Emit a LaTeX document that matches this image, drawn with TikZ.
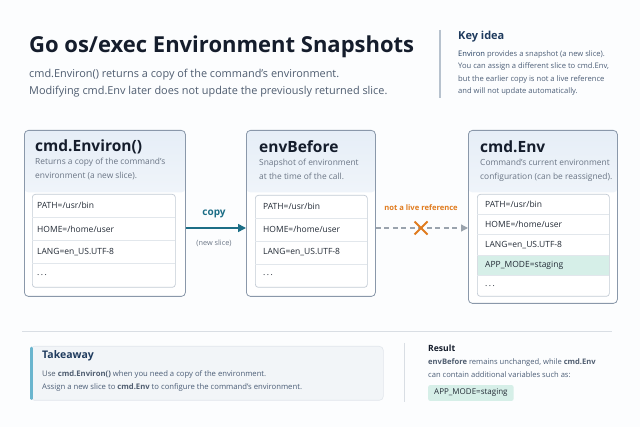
\documentclass[tikz,border=0pt]{standalone}
\usepackage{fontspec}
\setmainfont{Open Sans}
\usetikzlibrary{arrows.meta,shapes.misc,calc}

\definecolor{paper}{HTML}{FCFDFE}
\definecolor{ink}{HTML}{151D2C}
\definecolor{subtext}{HTML}{4F5D70}
\definecolor{navy}{HTML}{1F3B5E}
\definecolor{keytext}{HTML}{4C5E77}
\definecolor{keyrule}{HTML}{B7C2CE}
\definecolor{cardline}{HTML}{8A98AA}
\definecolor{hdtop}{HTML}{E6EEF7}
\definecolor{desctext}{HTML}{6A7585}
\definecolor{listline}{HTML}{C3CBD4}
\definecolor{rowline}{HTML}{E2E7EC}
\definecolor{rowtext}{HTML}{232B36}
\definecolor{copyteal}{HTML}{1C6E86}
\definecolor{warn}{HTML}{E07B1E}
\definecolor{dashgray}{HTML}{9AA3AD}
\definecolor{mint}{HTML}{D6EFE8}
\definecolor{notebg}{HTML}{F2F5F8}
\definecolor{noteline}{HTML}{E1E6EC}
\definecolor{accent}{HTML}{6AB5CE}
\definecolor{rulegray}{HTML}{D9DEE4}

\tikzset{
  txt/.style={anchor=west, inner sep=0pt, align=left},
  card/.style={draw=cardline, line width=0.8pt, rounded corners=4pt, fill=white,
    anchor=north west, inner sep=0pt,
    path picture={\shade[top color=hdtop, bottom color=white]
      (path picture bounding box.north west) rectangle ([yshift=-62pt]path picture bounding box.north east);}},
  cardtitle/.style={txt, text=ink, font=\fontsize{15.5}{18}\selectfont\bfseries},
  carddesc/.style={txt, text=desctext, font=\fontsize{8.4}{14}\selectfont},
  listbox/.style={draw=listline, line width=0.7pt, rounded corners=3pt, fill=white,
    anchor=north west, inner sep=0pt},
  rowtxt/.style={txt, text=rowtext, font=\fontsize{8.5}{10}\selectfont},
  rowsep/.style={draw=rowline, line width=0.6pt},
  copyarrow/.style={draw=copyteal, line width=1.6pt, -{Triangle[length=8pt,width=8pt]}},
  livearrow/.style={draw=dashgray, line width=1.3pt, dash pattern=on 5pt off 3.5pt,
    -{Triangle[length=7pt,width=7pt]}},
  cut/.style={cross out, draw=warn, line width=2pt, minimum size=11pt, inner sep=0pt},
  note/.style={draw=noteline, line width=0.6pt, fill=notebg, rounded corners=4pt,
    anchor=north west, inner sep=0pt},
  notetxt/.style={txt, text=keytext, font=\fontsize{7.7}{13}\selectfont},
  pill/.style={anchor=west, fill=mint, rounded corners=2pt, inner xsep=6pt, inner ysep=4pt,
    text=rowtext, font=\fontsize{8}{10}\selectfont}
}

\begin{document}
\begin{tikzpicture}[x=1pt, y=-1pt]
    \fill[paper] (0,0) rectangle (640,427);
    \useasboundingbox (0,0) rectangle (640,427);

    %% Heading
    \node[txt, text=ink, font=\fontsize{22}{26}\selectfont\bfseries] (title) at (29,47)
        {Go os/exec Environment Snapshots};
    \node[txt, text=subtext, font=\fontsize{10.9}{17}\selectfont] (subtitle) at (29,83)
        {cmd.Environ() returns a copy of the command's environment.\\
         Modifying cmd.Env later does not update the previously returned slice.};

    %% Key idea
    \draw[keyrule, line width=1.2pt] (440,30) -- (440,98);
    \node[txt, text=navy, font=\fontsize{11}{13}\selectfont\bfseries] (key) at (458,37) {Key idea};
    \node[txt, text=keytext, font=\fontsize{7.6}{12.4}\selectfont] (keytext) at (458,73)
        {\textcolor{navy}{Environ} provides a snapshot (a new slice).\\
         You can assign a different slice to cmd.Env,\\
         but the earlier copy is not a live reference\\
         and will not update automatically.};

    %% Cards
    \node[card, minimum width=161pt, minimum height=166pt] (environ) at (24,130) {};
    \node[card, minimum width=129pt, minimum height=166pt] (before) at (246,130) {};
    \node[card, minimum width=149pt, minimum height=173pt] (env) at (468,130) {};

    \node[cardtitle] (environ-t) at (35,147) {cmd.Environ()};
    \node[carddesc] (environ-d) at (35,169) {Returns a copy of the command's\\environment (a new slice).};
    \node[cardtitle] (before-t) at (259,147) {envBefore};
    \node[carddesc] (before-d) at (259,169) {Snapshot of environment\\at the time of the call.};
    \node[cardtitle] (env-t) at (480,147) {cmd.Env};
    \node[carddesc] (env-d) at (480,170) {Command's current environment\\configuration (can be reassigned).};

    %% Variable lists
    \node[listbox, minimum width=143pt, minimum height=93pt] (environ-l) at (32,194) {};
    \node[listbox, minimum width=112pt, minimum height=92pt] (before-l) at (255,195) {};
    \node[listbox, minimum width=132pt, minimum height=102pt] (env-l) at (477,194) {};
    \fill[mint] ($(env-l.north west)+(0.5,61.2)$) rectangle ++(131,20.4);

    \foreach \i in {1,2,3} {
        \draw[rowsep] ($(environ-l.north west)+(0,{\i*23.25})$) -- ++(143,0);
        \draw[rowsep] ($(before-l.north west)+(0,{\i*23})$) -- ++(112,0);
    }
    \foreach \i in {1,2,3,4}
        \draw[rowsep] ($(env-l.north west)+(0,{\i*20.4})$) -- ++(132,0);

    \foreach \v [count=\i] in {PATH=/usr/bin, HOME=/home/user, LANG=en\_US.UTF-8, .\,.\,.} {
        \node[rowtxt] (environ-r\i) at ($(environ-l.north west)+(5,{(\i-0.5)*23.25})$) {\v};
        \node[rowtxt] (before-r\i) at ($(before-l.north west)+(8,{(\i-0.5)*23})$) {\v};
    }
    \foreach \v [count=\i] in {PATH=/usr/bin, HOME=/home/user, LANG=en\_US.UTF-8, APP\_MODE=staging, .\,.\,.}
        \node[rowtxt] (env-r\i) at ($(env-l.north west)+(8,{(\i-0.5)*20.4})$) {\v};

    %% Connectors
    \coordinate (lane) at (0,228);
    \draw[copyarrow] (environ.east |- lane) -- (before.west |- lane);
    \node[anchor=center, text=copyteal, font=\fontsize{10}{12}\selectfont\bfseries] (copy) at (214,214) {copy};
    \node[anchor=center, text=desctext, font=\fontsize{7.3}{9}\selectfont] (newslice) at (214,243) {(new slice)};

    \draw[livearrow] (before.east |- lane) -- (env.west |- lane);
    \node[cut] (cut) at (421,228) {};
    \node[anchor=center, text=warn, font=\fontsize{7.6}{9}\selectfont\bfseries] (live) at (421,208)
        {not a live reference};

    %% Bottom
    \draw[rulegray, line width=0.8pt] (22,331) -- (612,331);
    \draw[rulegray, line width=0.8pt] (404,343) -- (404,402);

    \node[note, minimum width=353pt, minimum height=54pt] (take) at (30,346) {};
    \draw[accent, line width=2.6pt, line cap=round]
        ([xshift=1.3pt,yshift=-2pt]take.north west) -- ([xshift=1.3pt,yshift=2pt]take.south west);
    \node[txt, text=navy, font=\fontsize{10.5}{12}\selectfont\bfseries] (take-t) at (42,356) {Takeaway};
    \node[notetxt] (take-d) at (42,380.5)
        {\textcolor{subtext}{Use \textbf{cmd.Environ()}} when you need a copy of the environment.\\
         Assign a new slice to \textcolor{subtext}{\textbf{cmd.Env}} to configure the command's environment.};

    \node[txt, text=ink, font=\fontsize{8.6}{10}\selectfont\bfseries] (result) at (428,348) {Result};
    \node[notetxt, font=\fontsize{7.6}{13}\selectfont] (result-d) at (428,368.5)
        {\textcolor{subtext}{\textbf{envBefore}} remains unchanged, while \textcolor{subtext}{\textbf{cmd.Env}}\\
         can contain additional variables such as:};
    \node[pill] (mode) at (428,393) {APP\_MODE=staging};
\end{tikzpicture}
\end{document}
